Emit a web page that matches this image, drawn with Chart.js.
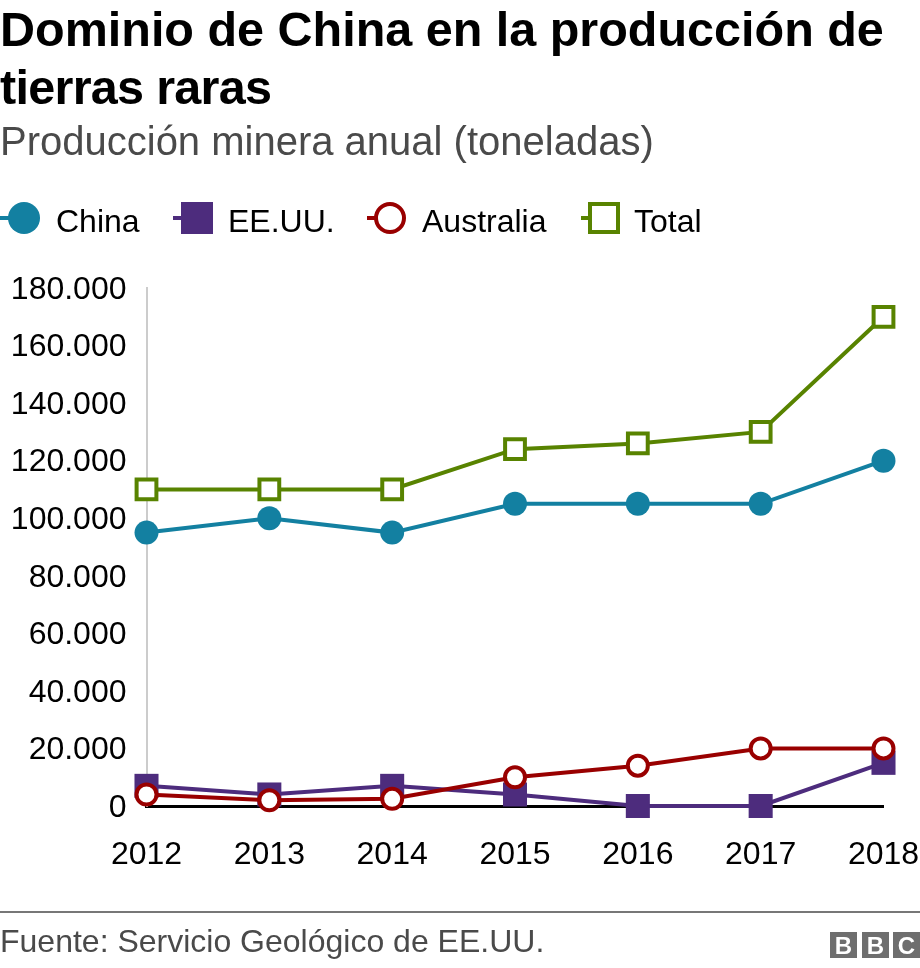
<!DOCTYPE html>
<html lang="es">
<head>
<meta charset="utf-8">
<script src="https://cdn.jsdelivr.net/npm/chart.js@4"></script>
<style>
html, body { margin: 0; padding: 0; background: #fff; }
body { width: 920px; height: 968px; position: relative; overflow: hidden; font-family: "Liberation Sans", Arial, sans-serif; }
#title { position: absolute; left: 0; top: 0; width: 920px; font-size: 48.5px; line-height: 58px; font-weight: bold; color: #000; }
#title span { letter-spacing: -0.7px; }
#subtitle { position: absolute; left: 0; top: 118px; font-size: 40px; line-height: 46px; color: #4a4a4a; white-space: nowrap; }
.legend-item { position: absolute; top: 200px; height: 38px; font-size: 32px; line-height: 43px; color: #000; white-space: nowrap; }
.stub { position: absolute; height: 4px; top: 16px; }
.marker { position: absolute; box-sizing: border-box; }
.legend-label { position: absolute; top: 0; }
#wrap { position: absolute; left: 0; top: 0; width: 920px; height: 968px; }
#chart { display: block; }
#rule { position: absolute; left: 0; top: 911px; width: 920px; height: 2px; background: #777; }
#source { position: absolute; left: 0; top: 922px; font-size: 32px; line-height: 38px; color: #4a4a4a; white-space: nowrap; }
#logo { position: absolute; left: 830px; top: 932px; }
#logo span { position: absolute; top: 0; width: 27px; height: 26px; background: #6e6e6e; color: #fff; font-weight: bold; font-size: 24px; line-height: 27px; text-align: center; }
</style>
</head>
<body>
<div id="wrap"><canvas id="chart" width="920" height="968"></canvas></div>
<div id="title">Dominio de China en la producción de <span>tierras raras</span></div>
<div id="subtitle">Producción minera anual (toneladas)</div>
<div id="legend"></div>
<div id="rule"></div>
<div id="source">Fuente: Servicio Geológico de EE.UU.</div>
<div id="logo"><span style="left:0">B</span><span style="left:32px">B</span><span style="left:63px">C</span></div>
<script>
var YEARS = ['2012', '2013', '2014', '2015', '2016', '2017', '2018'];
var CHINA = [95000, 100000, 95000, 105000, 105000, 105000, 120000];
var USA = [7000, 4000, 7000, 4000, 0, 0, 15000];
var AUSTRALIA = [4000, 2000, 2500, 10000, 14000, 20000, 20000];
var TOTAL = [110000, 110000, 110000, 124000, 126000, 130000, 170000];

var BLUE = '#1380a1';
var PURPLE = '#4d2c7d';
var RED = '#990000';
var GREEN = '#588300';

function makeDataset(label, data, color, pointStyle, radius, hollow, order) {
    return {
        label: label,
        data: data,
        borderColor: color,
        borderWidth: 4,
        pointStyle: pointStyle,
        pointRadius: radius,
        pointHoverRadius: radius,
        pointBorderWidth: hollow ? 4 : 0,
        pointBackgroundColor: hollow ? '#fff' : color,
        pointBorderColor: color,
        tension: 0,
        clip: false,
        order: order
    };
}

var chart = new Chart(document.getElementById('chart'), {
    type: 'line',
    data: {
        labels: YEARS,
        datasets: [
            makeDataset('China', CHINA, BLUE, 'circle', 12, false, 3),
            makeDataset('EE.UU.', USA, PURPLE, 'rect', 17, false, 2),
            makeDataset('Australia', AUSTRALIA, RED, 'circle', 10, true, 1),
            makeDataset('Total', TOTAL, GREEN, 'rect', 14, true, 0)
        ]
    },
    options: {
        responsive: false,
        animation: false,
        events: [],
        layout: { padding: { top: 288, right: 0, bottom: 62, left: 0 } },
        plugins: {
            legend: { display: false },
            title: { display: false },
            tooltip: { enabled: false }
        },
        scales: {
            x: {
                offset: false,
                afterFit: function(scale) {
                    scale.height = 100;
                    // tick padding gets added to the side padding otherwise
                    scale.paddingLeft = 0;
                    scale.paddingRight = 36.5;
                },
                grid: { display: false, drawTicks: false },
                border: { color: '#000', width: 3 },
                ticks: {
                    color: '#000',
                    font: { family: '"Liberation Sans"', size: 32 },
                    padding: 30,
                    maxRotation: 0,
                    autoSkip: false
                }
            },
            y: {
                min: 0,
                max: 180000,
                afterFit: function(scale) { scale.width = 146.5; },
                grid: { display: false, drawTicks: false },
                border: { color: '#ccc', width: 2 },
                ticks: {
                    stepSize: 20000,
                    color: '#000',
                    padding: 20,
                    labelOffset: 2,
                    font: { family: '"Liberation Sans"', size: 32 },
                    callback: function(value) {
                        return String(value).replace(/\B(?=(\d{3})+$)/g, '.');
                    }
                }
            }
        }
    }
});

// legend built as html, the stock one has no line stub next to the marker
var LEGEND_STUB_X = [0, 173, 367, 581];
var LEGEND_MARKER_X = [8, 181, 374, 588];
var LEGEND_LABEL_X = [56, 228, 422, 634];
var LEGEND_MARKER_SIZE = 32;
var legend = document.getElementById('legend');
chart.data.datasets.forEach(function(ds, i) {
    var hollow = ds.pointBorderWidth > 0;
    var item = document.createElement('div');
    item.className = 'legend-item';
    item.style.left = '0';
    var stub = document.createElement('div');
    stub.className = 'stub';
    stub.style.left = LEGEND_STUB_X[i] + 'px';
    stub.style.width = (LEGEND_MARKER_X[i] - LEGEND_STUB_X[i] + 4) + 'px';
    stub.style.background = ds.borderColor;
    var marker = document.createElement('div');
    marker.className = 'marker';
    marker.style.left = LEGEND_MARKER_X[i] + 'px';
    marker.style.top = '2px';
    marker.style.width = LEGEND_MARKER_SIZE + 'px';
    marker.style.height = LEGEND_MARKER_SIZE + 'px';
    marker.style.background = ds.pointBackgroundColor;
    if (hollow) marker.style.border = '4px solid ' + ds.borderColor;
    if (ds.pointStyle === 'circle') marker.style.borderRadius = '50%';
    var text = document.createElement('div');
    text.className = 'legend-label';
    text.style.left = LEGEND_LABEL_X[i] + 'px';
    text.textContent = ds.label;
    item.appendChild(stub);
    item.appendChild(marker);
    item.appendChild(text);
    legend.appendChild(item);
});
</script>
</body>
</html>
